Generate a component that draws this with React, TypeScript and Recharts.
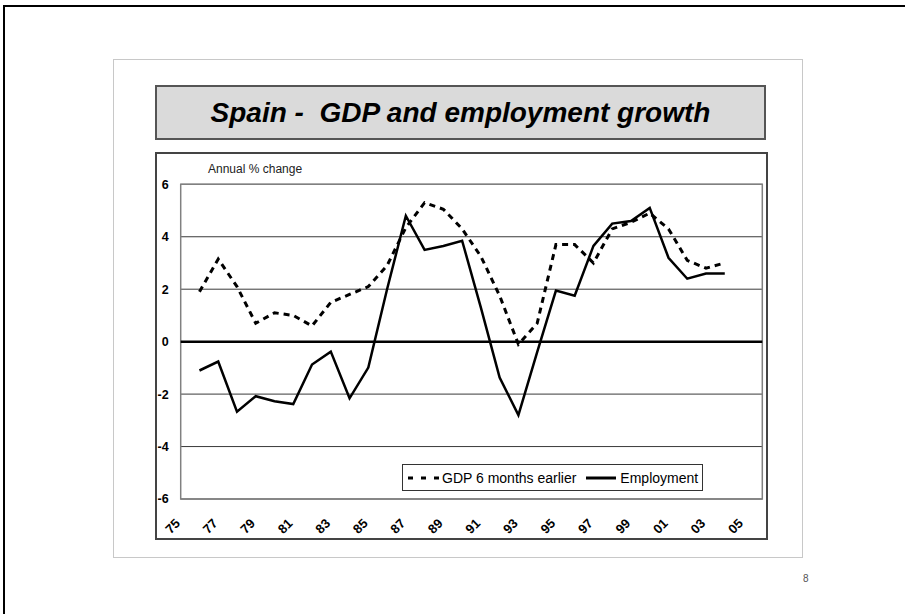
import {
  LineChart, Line, XAxis, YAxis, CartesianGrid,
  ReferenceLine, ReferenceArea,
} from 'recharts'

const FONT = 'Arial, "Liberation Sans", sans-serif'

const YEARS = [
  '75', '76', '77', '78', '79', '80', '81', '82', '83', '84',
  '85', '86', '87', '88', '89', '90', '91', '92', '93', '94',
  '95', '96', '97', '98', '99', '00', '01', '02', '03', '04',
  '05', '06',
]

// GDP growth, shifted 6 months
const GDP_LAGGED = [
  null, 1.9, 3.15, 2.1, 0.7, 1.1, 1.0, 0.6, 1.5, 1.8,
  2.1, 2.9, 4.35, 5.3, 5.05, 4.3, 3.25, 1.75, -0.1, 0.7,
  3.7, 3.7, 3.0, 4.3, 4.55, 4.9, 4.3, 3.1, 2.8, 3.0,
  null, null,
]

const EMPLOYMENT = [
  null, -1.1, -0.76, -2.67, -2.08, -2.27, -2.38, -0.87, -0.38, -2.16,
  -0.99, 2.0, 4.8, 3.5, 3.65, 3.85, 1.3, -1.37, -2.8, -0.4,
  1.95, 1.75, 3.65, 4.5, 4.6, 5.1, 3.2, 2.4, 2.6, 2.6,
  null, null,
]

const Y_TICKS = [-6, -4, -2, 0, 2, 4, 6]

const data = YEARS.map((year, i) => ({
  year,
  gdp: GDP_LAGGED[i],
  employment: EMPLOYMENT[i],
}))

function XTick({ x, y, payload }: any) {
  return (
    <g transform={`translate(${x},${y})`}>
      <text
        x={-3} y={22} dy="0.35em"
        transform="rotate(-45 -3 22)"
        textAnchor="end"
        fontSize={13} fontWeight="bold" fill="#000" fontFamily={FONT}
      >
        {payload.value}
      </text>
    </g>
  )
}

function LegendBox() {
  return (
    <div style={{
      position: 'absolute', left: 402, top: 464,
      display: 'flex', alignItems: 'center',
      width: 301, height: 27, boxSizing: 'border-box',
      border: '1.5px solid #333', background: '#fff',
      fontSize: 14, fontFamily: FONT, color: '#000',
      paddingLeft: 4, whiteSpace: 'nowrap',
    }}>
      <svg width={32} height={10}>
        <line x1={1} y1={5} x2={32} y2={5} stroke="#000" strokeWidth={3} strokeDasharray="5 8" />
      </svg>
      <span style={{ marginLeft: 3 }}>GDP 6 months earlier</span>
      <svg width={30} height={10} style={{ marginLeft: 10 }}>
        <line x1={0} y1={5} x2={30} y2={5} stroke="#000" strokeWidth={3} />
      </svg>
      <span style={{ marginLeft: 4 }}>Employment</span>
    </div>
  )
}

export default function App() {
  return (
    <div style={{
      position: 'absolute', left: 0, top: 0, width: 905, height: 614,
      background: '#fff', fontFamily: FONT, overflow: 'hidden',
    }}>
      {/* slide edge */}
      <div style={{ position: 'absolute', left: 3, top: 5, width: 902, height: 2, background: '#000' }} />
      <div style={{ position: 'absolute', left: 3, top: 5, width: 2, height: 609, background: '#000' }} />

      {/* slide frame */}
      <div style={{
        position: 'absolute', left: 113, top: 59, width: 690, height: 499,
        boxSizing: 'border-box', border: '1px solid #c8c8c8',
      }} />

      {/* title */}
      <div style={{
        position: 'absolute', left: 155, top: 85, width: 611, height: 55,
        boxSizing: 'border-box', border: '2px solid #555', background: '#dadada',
        display: 'flex', alignItems: 'center', justifyContent: 'center',
        fontSize: 28, fontWeight: 'bold', fontStyle: 'italic', whiteSpace: 'pre',
        color: '#000',
      }}>
        {'Spain -  GDP and employment growth'}
      </div>

      {/* chart frame */}
      <div style={{
        position: 'absolute', left: 155, top: 152, width: 613, height: 388,
        boxSizing: 'border-box', border: '2px solid #444',
      }} />

      <div style={{ position: 'absolute', left: 208, top: 162, fontSize: 12, color: '#222' }}>
        Annual % change
      </div>

      <div style={{ position: 'absolute', left: 155, top: 152 }}>
        <LineChart
          width={613} height={388} data={data}
          margin={{ top: 32.3, right: 5.7, left: 0, bottom: 11 }}
        >
          <CartesianGrid vertical={false} stroke="#3a3a3a" strokeWidth={1} />
          <XAxis
            dataKey="year" interval={1} height={30}
            axisLine={false} tickLine={false} tickSize={0} tickMargin={0}
            tick={<XTick />}
          />
          <YAxis
            domain={[-6, 6]} ticks={Y_TICKS} width={25.7}
            axisLine={false} tickLine={false} tickSize={0} tickMargin={12}
            tick={{ fontSize: 12.5, fontWeight: 'bold', fill: '#000', fontFamily: FONT }}
          />
          <ReferenceArea y1={-6} y2={6} fill="none" stroke="#808080" strokeWidth={1.5} ifOverflow="visible" />
          <ReferenceLine y={0} stroke="#000" strokeWidth={2.5} />
          <Line
            dataKey="gdp" name="GDP 6 months earlier" stroke="#000" strokeWidth={3}
            strokeDasharray="6 5" dot={false} activeDot={false} isAnimationActive={false}
          />
          <Line
            dataKey="employment" name="Employment" stroke="#000" strokeWidth={2.5}
            dot={false} activeDot={false} isAnimationActive={false}
          />
        </LineChart>
      </div>

      <LegendBox />

      <div style={{ position: 'absolute', left: 803, top: 573, fontSize: 10, color: '#555' }}>8</div>
    </div>
  )
}
